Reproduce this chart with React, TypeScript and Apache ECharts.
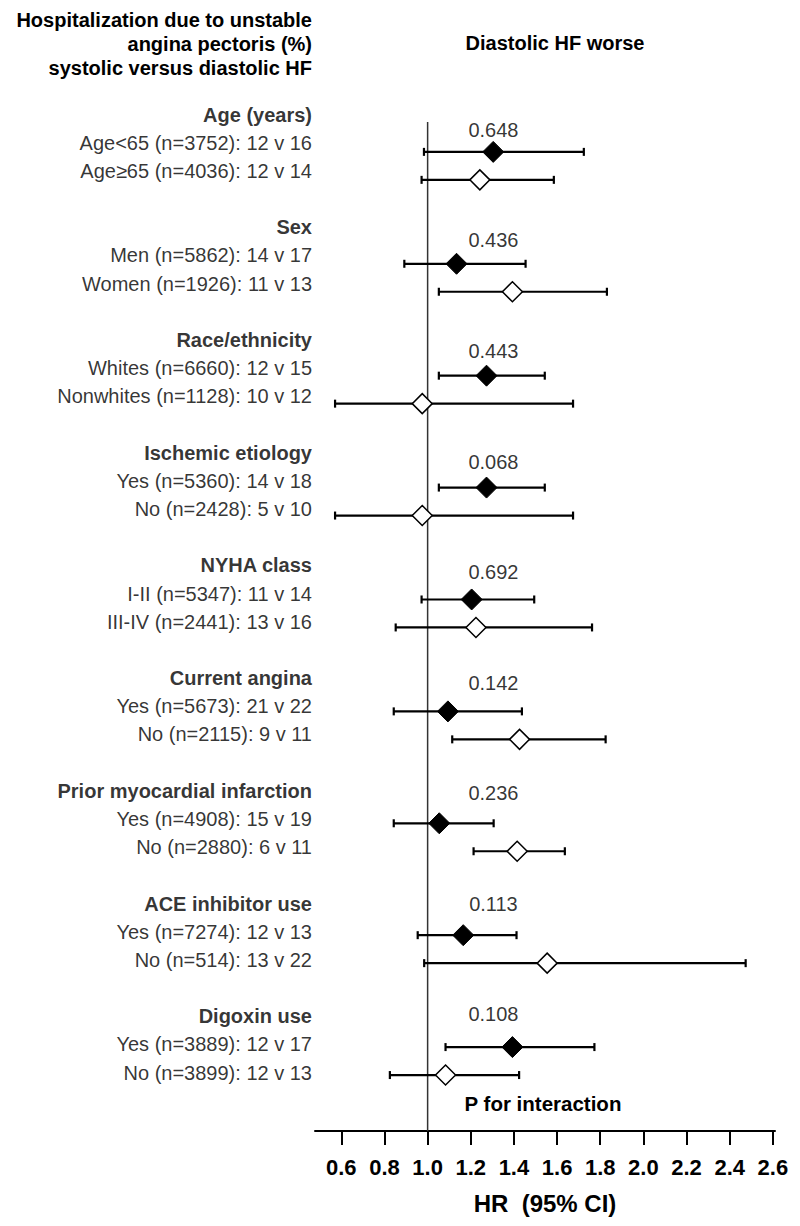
import React, { useEffect, useRef } from "react";
import * as echarts from "echarts";

// ---------- data ----------
const groupHeaders = [
  "Age (years)",
  "Sex",
  "Race/ethnicity",
  "Ischemic etiology",
  "NYHA class",
  "Current angina",
  "Prior myocardial infarction",
  "ACE inhibitor use",
  "Digoxin use",
];

const pValues = ["0.648", "0.436", "0.443", "0.068", "0.692", "0.142", "0.236", "0.113", "0.108"];

const rowLabels = [
  "Age<65 (n=3752): 12 v 16",
  "Age≥65 (n=4036): 12 v 14",
  "Men (n=5862): 14 v 17",
  "Women (n=1926): 11 v 13",
  "Whites (n=6660): 12 v 15",
  "Nonwhites (n=1128): 10 v 12",
  "Yes (n=5360): 14 v 18",
  "No (n=2428): 5 v 10",
  "I-II (n=5347): 11 v 14",
  "III-IV (n=2441): 13 v 16",
  "Yes (n=5673): 21 v 22",
  "No (n=2115): 9 v 11",
  "Yes (n=4908): 15 v 19",
  "No (n=2880): 6 v 11",
  "Yes (n=7274): 12 v 13",
  "No (n=514): 13 v 22",
  "Yes (n=3889): 12 v 17",
  "No (n=3899): 12 v 13",
];

const hr = [1.304, 1.242, 1.134, 1.393, 1.273, 0.975, 1.273, 0.975, 1.204, 1.224, 1.094, 1.426, 1.054, 1.415, 1.165, 1.554, 1.393, 1.083];
const ciLower = [0.983, 0.972, 0.892, 1.052, 1.052, 0.571, 1.052, 0.571, 0.972, 0.852, 0.843, 1.114, 0.843, 1.213, 0.954, 0.984, 1.083, 0.825];
const ciUpper = [1.724, 1.585, 1.454, 1.831, 1.543, 1.674, 1.543, 1.674, 1.494, 1.762, 1.437, 1.825, 1.306, 1.636, 1.412, 2.474, 1.773, 1.424];

const xTicks = [0.6, 0.8, 1.0, 1.2, 1.4, 1.6, 1.8, 2.0, 2.2, 2.4, 2.6];

const titleLines = [
  "Hospitalization due to unstable",
  "angina pectoris (%)",
  "systolic versus diastolic HF",
];

// ---------- layout helpers ----------
const FONT = "'Liberation Sans', Arial, Helvetica, sans-serif";
const ROWS_PER_GROUP = 4; // header, row 1, row 2, spacer
const rowPos = (k: number) => Math.floor(k / 2) * ROWS_PER_GROUP + 1 + (k % 2);
const headerPos = (g: number) => g * ROWS_PER_GROUP;
const P_X = 1.305;

export default function App() {
  const ref = useRef<HTMLDivElement>(null);

  useEffect(() => {
    if (!ref.current) return;
    const chart = echarts.init(ref.current, null, { renderer: "svg" });

    const errData = rowLabels.map((_, k) => [ciLower[k], ciUpper[k], rowPos(k)]);
    const filled = rowLabels
      .map((_, k) => (k % 2 === 0 ? [hr[k], rowPos(k)] : null))
      .filter(Boolean);
    const open = rowLabels
      .map((_, k) => (k % 2 === 1 ? [hr[k], rowPos(k)] : null))
      .filter(Boolean);

    const xMin = 0.478;
    const headerData = groupHeaders.map((h, g) => ({ value: [xMin, headerPos(g)], name: h }));
    const rowLabelData = rowLabels.map((l, k) => ({ value: [xMin, rowPos(k)], name: l }));
    const pData = pValues.map((p, g) => ({ value: [P_X, headerPos(g)], name: p }));

    const option: any = {
      animation: false,
      backgroundColor: "#fff",
      grid: { left: 315, right: 25, top: 12, bottom: 95, containLabel: false, outerBoundsMode: "none" },
      xAxis: {
        type: "value",
        position: "bottom",
        min: xMin,
        max: 2.61,
        name: "HR  (95% CI)",
        nameLocation: "middle",
        nameGap: 60,
        nameTextStyle: { fontSize: 24, fontWeight: "bold", color: "#000", fontFamily: FONT },
        axisLine: { show: true, onZero: false, lineStyle: { color: "#000", width: 2 } },
        axisTick: { show: true, length: 14, lineStyle: { color: "#000", width: 2 }, customValues: xTicks },
        axisLabel: {
          customValues: xTicks,
          formatter: (v: number) => v.toFixed(1),
          fontSize: 22,
          fontWeight: "bold",
          color: "#000",
          fontFamily: FONT,
          margin: 25,
        },
        splitLine: { show: false },
      },
      yAxis: [
        { type: "value", inverse: true, min: -4, max: 36, show: false },
        { type: "value", inverse: true, min: -3.642, max: 36.074, show: false },
        { type: "value", inverse: true, min: -4.266, max: 36.226, show: false },
      ],
      graphic: [
        ...titleLines.map((t, i) => ({
          type: "text",
          x: 312,
          y: [20, 44, 68][i],
          style: {
            text: t,
            align: "right",
            verticalAlign: "middle",
            fontSize: 20,
            fontWeight: "bold",
            fontFamily: FONT,
            fill: "#000",
          },
        })),
        {
          type: "text",
          x: 555,
          y: 43,
          style: {
            text: "Diastolic HF worse",
            align: "center",
            verticalAlign: "middle",
            fontSize: 20,
            fontWeight: "bold",
            fontFamily: FONT,
            fill: "#000",
          },
        },
        {
          type: "text",
          x: 543,
          y: 1103,
          style: {
            text: "P for interaction",
            align: "center",
            verticalAlign: "middle",
            fontSize: 20.5,
            fontWeight: "bold",
            fontFamily: FONT,
            fill: "#000",
          },
        },
      ],
      series: [
        {
          type: "line",
          yAxisIndex: 0,
          data: [
            [1, -0.07],
            [1, 36],
          ],
          symbol: "none",
          lineStyle: { color: "#333", width: 1.5 },
          silent: true,
          z: 1,
        },
        {
          type: "custom",
          yAxisIndex: 0,
          clip: false,
          encode: { x: [0, 1], y: 2 },
          data: errData,
          renderItem: (params: any, api: any) => {
            const y = api.value(2);
            const a = api.coord([api.value(0), y]);
            const b = api.coord([api.value(1), y]);
            const cap = 4;
            const st = { stroke: "#000", lineWidth: 2.2 };
            return {
              type: "group",
              children: [
                { type: "line", shape: { x1: a[0], y1: a[1], x2: b[0], y2: b[1] }, style: st },
                { type: "line", shape: { x1: a[0], y1: a[1] - cap, x2: a[0], y2: a[1] + cap }, style: st },
                { type: "line", shape: { x1: b[0], y1: b[1] - cap, x2: b[0], y2: b[1] + cap }, style: st },
              ],
            };
          },
          z: 2,
        },
        {
          type: "scatter",
          yAxisIndex: 0,
          data: filled,
          symbol: "diamond",
          symbolSize: 21,
          itemStyle: { color: "#000", borderColor: "#000", borderWidth: 1, opacity: 1 },
          clip: false,
          z: 3,
        },
        {
          type: "scatter",
          yAxisIndex: 0,
          data: open,
          symbol: "diamond",
          symbolSize: 20,
          itemStyle: { color: "#fff", borderColor: "#000", borderWidth: 1.5, opacity: 1 },
          clip: false,
          z: 3,
        },
        {
          type: "scatter",
          yAxisIndex: 1,
          data: headerData,
          symbolSize: 0,
          clip: false,
          silent: true,
          label: {
            show: true,
            position: "left",
            distance: 3,
            formatter: (p: any) => p.name,
            fontSize: 20,
            fontWeight: "bold",
            color: "#000",
            fontFamily: FONT,
          },
        },
        {
          type: "scatter",
          yAxisIndex: 1,
          data: rowLabelData,
          symbolSize: 0,
          clip: false,
          silent: true,
          label: {
            show: true,
            position: "left",
            distance: 3,
            formatter: (p: any) => p.name,
            fontSize: 20,
            color: "#000",
            fontFamily: FONT,
          },
        },
        {
          type: "scatter",
          yAxisIndex: 2,
          data: pData,
          symbolSize: 0,
          clip: false,
          silent: true,
          label: {
            show: true,
            position: "inside",
            formatter: (p: any) => p.name,
            fontSize: 20,
            color: "#000",
            fontFamily: FONT,
          },
        },
      ],
    };

    chart.setOption(option);
    return () => chart.dispose();
  }, []);

  return (
    <div
      ref={ref}
      style={{ position: "absolute", left: 0, top: 0, width: 800, height: 1226, background: "#fff" }}
    />
  );
}
